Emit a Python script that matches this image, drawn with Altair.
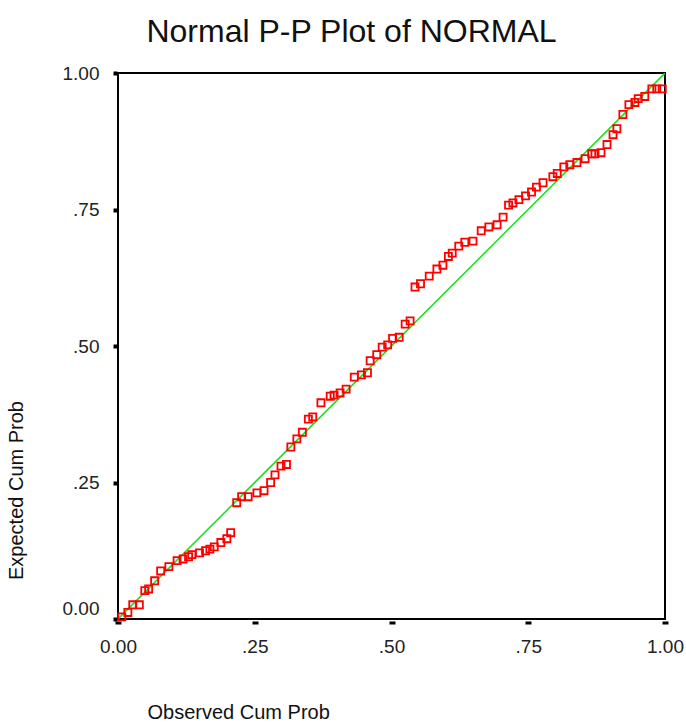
import altair as alt
import pandas as pd

observed = [0.007, 0.018, 0.027, 0.039, 0.049, 0.056, 0.067, 0.078, 0.093, 0.108,
            0.119, 0.129, 0.135, 0.149, 0.160, 0.168, 0.176, 0.188, 0.199, 0.206,
            0.217, 0.226, 0.238, 0.254, 0.267, 0.279, 0.287, 0.298, 0.308, 0.316,
            0.327, 0.337, 0.348, 0.356, 0.371, 0.388, 0.395, 0.406, 0.417, 0.432,
            0.445, 0.456, 0.461, 0.473, 0.483, 0.493, 0.502, 0.514, 0.525, 0.534,
            0.543, 0.553, 0.569, 0.583, 0.594, 0.604, 0.611, 0.623, 0.634, 0.649,
            0.664, 0.678, 0.693, 0.704, 0.714, 0.722, 0.733, 0.745, 0.756, 0.765,
            0.777, 0.795, 0.803, 0.815, 0.826, 0.839, 0.854, 0.866, 0.872, 0.883,
            0.894, 0.905, 0.912, 0.923, 0.934, 0.945, 0.951, 0.963, 0.976, 0.985,
            0.995]
expected = [0.004, 0.012, 0.026, 0.026, 0.052, 0.055, 0.070, 0.088, 0.096, 0.107,
            0.110, 0.114, 0.118, 0.121, 0.125, 0.128, 0.132, 0.140, 0.147, 0.158,
            0.213, 0.224, 0.224, 0.231, 0.235, 0.250, 0.264, 0.280, 0.283, 0.315,
            0.330, 0.342, 0.366, 0.370, 0.396, 0.408, 0.410, 0.414, 0.421, 0.443,
            0.447, 0.451, 0.473, 0.484, 0.498, 0.502, 0.514, 0.516, 0.540, 0.546,
            0.608, 0.614, 0.628, 0.641, 0.648, 0.664, 0.670, 0.683, 0.690, 0.692,
            0.711, 0.718, 0.722, 0.736, 0.758, 0.762, 0.768, 0.775, 0.782, 0.791,
            0.799, 0.810, 0.816, 0.828, 0.832, 0.836, 0.843, 0.852, 0.852, 0.854,
            0.869, 0.887, 0.898, 0.924, 0.942, 0.946, 0.953, 0.957, 0.971, 0.971,
            0.971]
line_x = [0.0, 1.0]
line_y = [0.0, 1.0]
tick_values = [0.0, 0.25, 0.5, 0.75, 1.0]

pts = pd.DataFrame({"obs": observed, "exp": expected})
ref = pd.DataFrame({"obs": line_x, "exp": line_y})

FONT = "Liberation Sans"
label_expr = "datum.value == 0 ? '0.00' : datum.value == 1 ? '1.00' : replace(format(datum.value, '.2f'), '0.', '.')"

xenc = alt.X("obs:Q", scale=alt.Scale(domain=[0, 1], nice=False, zero=False),
             axis=alt.Axis(title="Observed Cum Prob", values=tick_values, labelExpr=label_expr,
                           grid=False, domain=False, ticks=True, tickSize=3, tickWidth=6,
                           tickColor="black", offset=2, labelPadding=13, labelFontSize=19,
                           labelFont=FONT, labelColor="#222222", titleFont=FONT,
                           titleFontSize=20, titleFontWeight="normal", titleColor="#111111",
                           titleX=29, titleY=91, titleAlign="left", titleBaseline="middle",
                           labelFlush=False))
yenc = alt.Y("exp:Q", scale=alt.Scale(domain=[0, 1], nice=False, zero=False),
             axis=alt.Axis(title="Expected Cum Prob", values=tick_values, labelExpr=label_expr,
                           grid=False, domain=False, ticks=True, tickSize=4, tickWidth=4,
                           tickColor="black", offset=1, labelPadding=14, labelFontSize=19,
                           labelFont=FONT, labelColor="#222222", titleFont=FONT,
                           titleFontSize=20, titleFontWeight="normal", titleColor="#111111",
                           titleX=-101, titleY=417, titleAngle=270, titleAlign="center",
                           titleBaseline="middle", labelFlush=False,
                           labelOffset={"condition": {"test": "datum.value === 0", "value": -11},
                                        "value": 0}))

line = alt.Chart(ref).mark_line(color="#22e022", strokeWidth=1.6, clip=True).encode(x=xenc, y=yenc)
points = alt.Chart(pts).mark_point(shape="square", size=50, filled=False, color="#ff0000",
                                   strokeWidth=1.8, opacity=1).encode(x=xenc, y=yenc)

chart = (line + points).properties(
    width=547, height=546,
    title=alt.TitleParams("Normal P-P Plot of NORMAL", font=FONT, fontSize=32,
                          fontWeight="normal", color="#111111", anchor="middle",
                          dx=-40, offset=15),
    autosize=alt.AutoSizeParams(type="none"),
    padding={"left": 118, "top": 73, "right": 21, "bottom": 104},
).configure(
    background="white",
    view=alt.ViewConfig(stroke="black", strokeWidth=2),
)

chart.save("out.html", embed_options={"renderer": "svg", "actions": False})
